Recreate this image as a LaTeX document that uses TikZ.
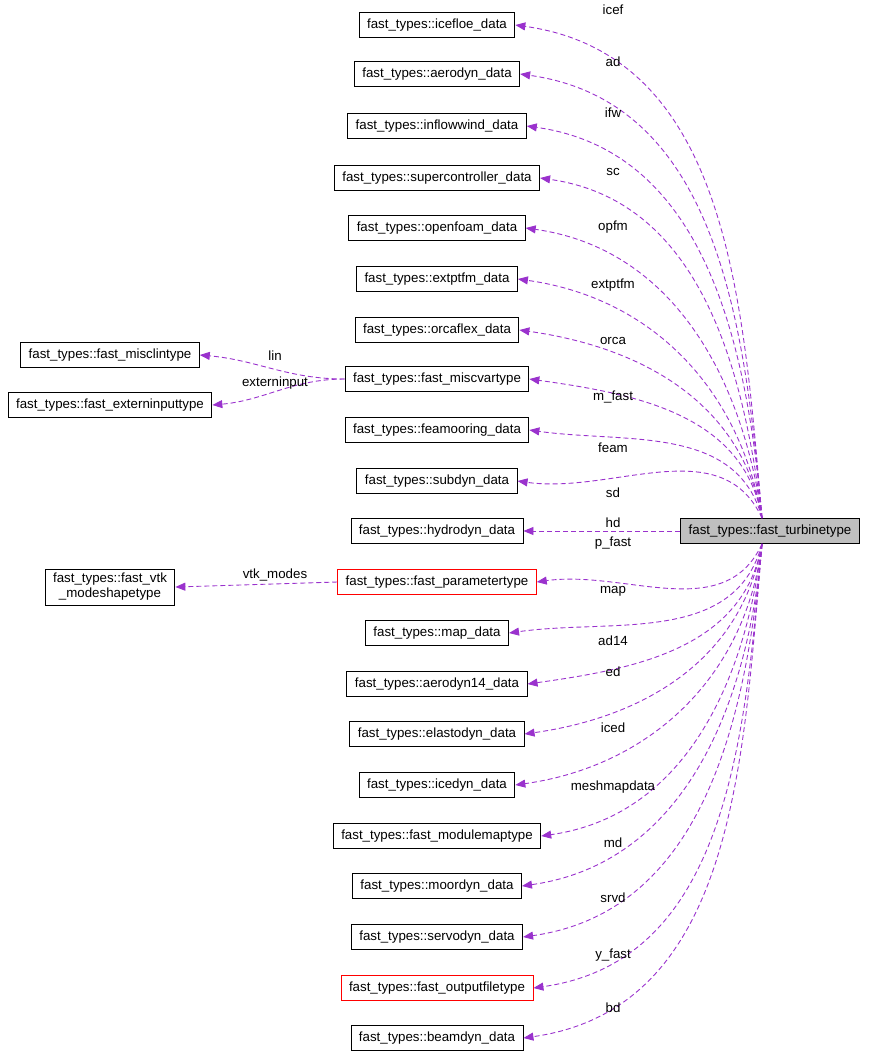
\documentclass[tikz,border=0pt]{standalone}
\usepackage{fontspec}
\setmainfont{Liberation Sans}
\usetikzlibrary{arrows.meta}
\definecolor{ep}{HTML}{9A32CD}
\begin{document}
\begin{tikzpicture}[x=1pt,y=-1pt,
  box/.style={draw=black,line width=0.9pt,minimum height=25pt,inner xsep=8pt,font=\fontsize{13.3}{15}\selectfont},
  rbox/.style={box,draw=red},
  edge/.style={draw=ep,dashed,dash pattern=on 5pt off 3pt,line width=0.9pt,-{Triangle[length=10pt,width=8pt,fill=ep]}},
  lab/.style={font=\fontsize{13.3}{15}\selectfont,inner sep=1pt}]
\useasboundingbox (0,0) rectangle (868,1058);
\node[box,fill=black!25] (tt) at (770,531) {fast\_types::fast\_turbinetype};
\node[box] (n1) at (437,25) {fast\_types::icefloe\_data};
\node[box] (n2) at (437,74) {fast\_types::aerodyn\_data};
\node[box] (n3) at (437,126) {fast\_types::inflowwind\_data};
\node[box] (n4) at (437,178) {fast\_types::supercontroller\_data};
\node[box] (n5) at (437,228) {fast\_types::openfoam\_data};
\node[box] (n6) at (437,279) {fast\_types::extptfm\_data};
\node[box] (n7) at (437,330) {fast\_types::orcaflex\_data};
\node[box] (n8) at (437,379) {fast\_types::fast\_miscvartype};
\node[box] (n9) at (437,430) {fast\_types::feamooring\_data};
\node[box] (n10) at (437,481) {fast\_types::subdyn\_data};
\node[box] (n11) at (437,531) {fast\_types::hydrodyn\_data};
\node[rbox] (n12) at (437,582) {fast\_types::fast\_parametertype};
\node[box] (n13) at (437,633) {fast\_types::map\_data};
\node[box] (n14) at (437,684) {fast\_types::aerodyn14\_data};
\node[box] (n15) at (437,734) {fast\_types::elastodyn\_data};
\node[box] (n16) at (437,785) {fast\_types::icedyn\_data};
\node[box] (n17) at (437,836) {fast\_types::fast\_modulemaptype};
\node[box] (n18) at (437,886) {fast\_types::moordyn\_data};
\node[box] (n19) at (437,937) {fast\_types::servodyn\_data};
\node[rbox] (n20) at (437,988) {fast\_types::fast\_outputfiletype};
\node[box] (n21) at (437,1038) {fast\_types::beamdyn\_data};
\node[box] (l1) at (110,355) {fast\_types::fast\_misclintype};
\node[box] (l2) at (110,405) {fast\_types::fast\_externinputtype};
\node[box,align=center,minimum height=36pt,inner ysep=2pt] (l3) at (110,587) {fast\_types::fast\_vtk\\\_modeshapetype};
\foreach \n/\l/\y/\a in {n1/icef/10/95,n2/ad/62/95,n3/ifw/113/95,n4/sc/172/97,n5/opfm/227/98,n6/extptfm/285/100,n7/orca/341/100,n8/m\_fast/397/100,n9/feam/448/105,n10/sd/493/115}{
  \draw[edge] ([xshift=-8pt]tt.north) to[out=\a,in=-8] (\n.east);
  \node[lab] at (613,\y) {\l};}
\draw[edge] (tt.west) -- (n11.east);
\node[lab] at (613,523) {hd};
\foreach \n/\l/\y/\a in {n12/p\_fast/543/-115,n13/map/591/-105,n14/ad14/641/-100,n15/ed/672/-100,n16/iced/728/-97,n17/meshmapdata/787/-97,n18/md/843/-95,n19/srvd/898/-95,n20/y\_fast/955/-95,n21/bd/1008/-95}{
  \draw[edge] ([xshift=-8pt]tt.south) to[out=\a,in=8] (\n.east);
  \node[lab] at (613,\y) {\l};}
\draw[edge] (n8.west) to[out=180,in=-5] (l1.east);
\node[lab] at (275,356) {lin};
\draw[edge] (n8.west) to[out=180,in=5] (l2.east);
\node[lab] at (275,383) {externinput};
\draw[edge] (n12.west) -- (l3.east);
\node[lab] at (275,575) {vtk\_modes};
\end{tikzpicture}
\end{document}
